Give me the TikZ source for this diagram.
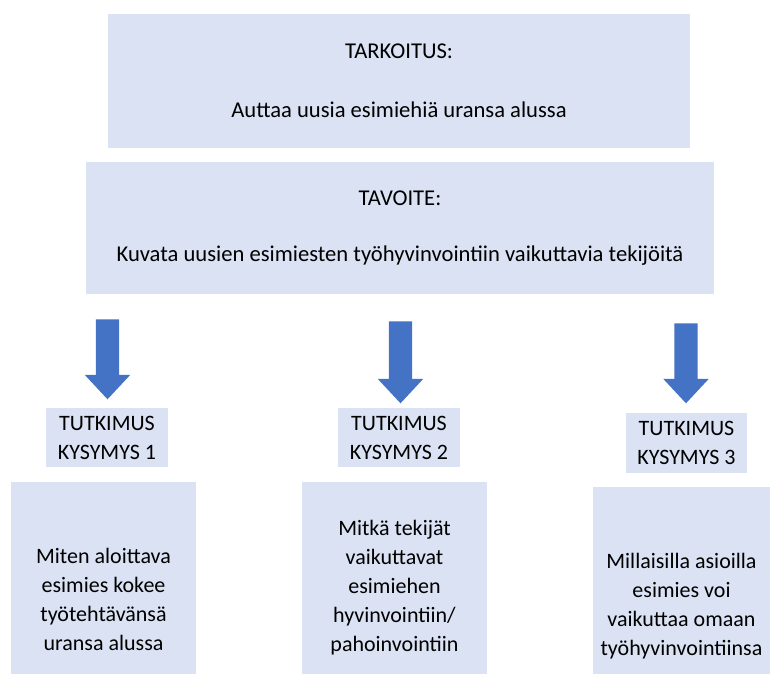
\documentclass[tikz,border=0pt]{standalone}
\usepackage{fontspec}
\setmainfont{Carlito}
\usetikzlibrary{shapes.arrows}
\definecolor{boxblue}{HTML}{DAE2F3}
\definecolor{arrowblue}{HTML}{4472C4}
\tikzset{
  box/.style={fill=boxblue,draw=none,align=center,inner sep=0pt,
    font=\fontsize{22}{29}\selectfont},
  wide box/.style={box,font=\fontsize{22.6}{29}\selectfont},
  downarrow/.style={single arrow,fill=arrowblue,draw=none,inner xsep=0pt,
    inner ysep=11.5pt,minimum width=45,single arrow head extend=11,
    single arrow tip angle=86,rotate=-90}
}
\begin{document}
\begin{tikzpicture}[x=1pt,y=-1pt]
  \useasboundingbox (0,0) rectangle (771,673);
  \clip (0,0) rectangle (771,673);
  \node at (399,81) [wide box,minimum width=582,minimum height=134] (purpose)
    {TARKOITUS:\\[30pt]Auttaa uusia esimiehiä uransa alussa};
  \node at (400,228) [wide box,minimum width=628,minimum height=132] (goal)
    {TAVOITE:\\[27pt]Kuvata uusien esimiesten työhyvinvointiin vaikuttavia tekijöitä};
  \node at (107.5,353) [downarrow,minimum height=80] (arrowA) {};
  \node at (400.5,356) [downarrow,minimum height=82] (arrowB) {};
  \node at (686,357) [downarrow,minimum height=80] (arrowC) {};
  \node at (107,437.5) [box,minimum width=122,minimum height=59] (rqA)
    {TUTKIMUS\\KYSYMYS 1};
  \node at (399,437.5) [box,minimum width=122,minimum height=59] (rqB)
    {TUTKIMUS\\KYSYMYS 2};
  \node at (686.5,443) [box,minimum width=121,minimum height=60] (rqC)
    {TUTKIMUS\\KYSYMYS 3};
  \node at (103.5,599.5) [box,minimum width=185,minimum height=235] (qA)
    {Miten aloittava\\esimies kokee\\työtehtävänsä\\uransa alussa};
  \node at (394.5,588) [box,minimum width=185,minimum height=212] (qB)
    {Mitkä tekijät\\vaikuttavat\\esimiehen\\hyvinvointiin/\\pahoinvointiin};
  \node at (681.5,606.5) [box,minimum width=177,minimum height=239] (qC)
    {Millaisilla asioilla\\esimies voi\\vaikuttaa omaan\\työhyvinvointiinsa};
\end{tikzpicture}
\end{document}
